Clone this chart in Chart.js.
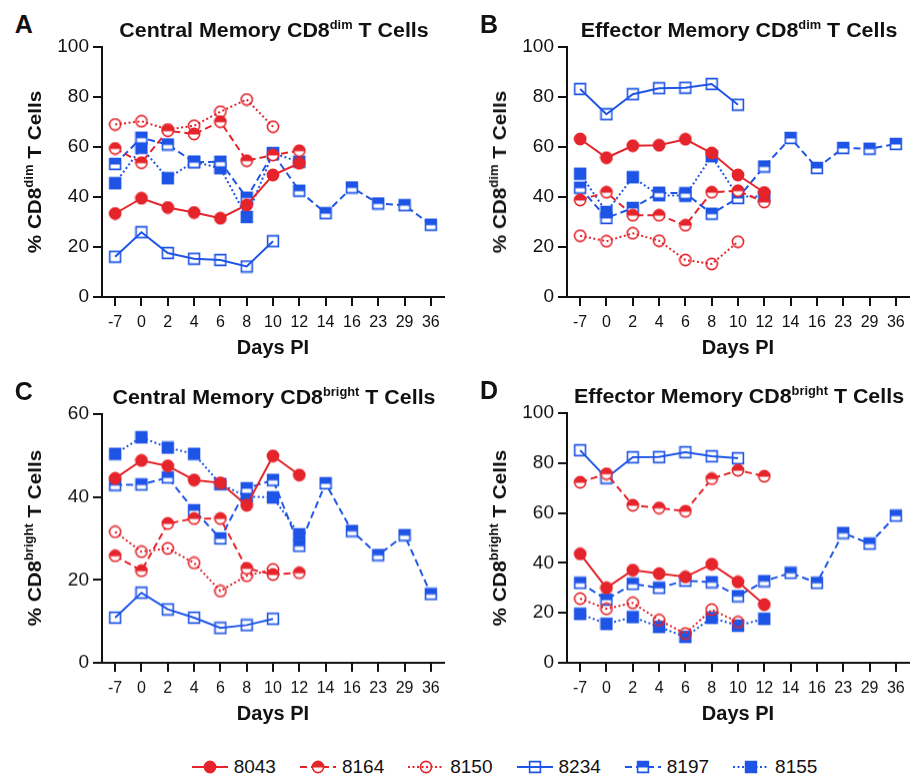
<!DOCTYPE html>
<html>
<head>
<meta charset="utf-8">
<script src="https://cdn.jsdelivr.net/npm/chart.js@4.4.0/dist/chart.umd.min.js"></script>
<style>
  html, body { margin: 0; padding: 0; background: #fff; }
  body {
    width: 917px; height: 778px; position: relative; overflow: hidden;
    font-family: "Liberation Sans", Arial, sans-serif; color: #111;
  }
  canvas.panel { position: absolute; }
  .letter, .ptitle, .ytitle { position: absolute; font-weight: bold; white-space: nowrap; }
  .letter { font-size: 25px; transform: translate(-50%, -50%); }
  .ptitle { font-size: 20px; transform: translate(-50%, -50%) scaleX(1.07); }
  .ytitle { font-size: 19px; transform: translate(-50%, -50%) rotate(-90deg) scaleX(1.09); }
  .sup { font-size: 12px; position: relative; top: -8px; }
  #legend {
    position: absolute; left: 46px; top: 755px; width: 917px; height: 24px;
    display: flex; justify-content: center; align-items: center;
    font-size: 19px;
  }
  .item { display: flex; align-items: center; margin: 0 12px; }
  .item canvas { margin-right: 6px; }
</style>
</head>
<body>
<div id="legend"></div>
<script>
// Dias pós-infecção e animais
const days = ['-7', '0', '2', '4', '6', '8', '10', '12', '14', '16', '23', '29', '36'];
const animals = ['8043', '8164', '8150', '8234', '8197', '8155'];

// A - Central Memory CD8dim
const a8043 = [33.4, 39.5, 35.8, 33.8, 31.5, 36.8, 48.8, 53.5];
const a8164 = [59.4, 53.7, 66.5, 65.2, 70.1, 54.5, 56.8, 58.5];
const a8150 = [69.0, 70.3, 67.0, 68.5, 74.1, 79.0, 68.1];
const a8234 = [16.1, 25.9, 17.6, 15.3, 14.8, 12.2, 22.3];
const a8197 = [53.2, 63.7, 61.0, 53.9, 54.1, 39.7, 57.4, 42.5, 33.5, 43.8, 37.4, 36.7, 28.9];
const a8155 = [45.5, 59.7, 47.5, 54.1, 51.5, 32.0, 57.5, 54.1];

// B - Effector Memory CD8dim
const b8043 = [63.2, 55.7, 60.5, 60.7, 63.1, 57.6, 48.8, 41.8];
const b8164 = [38.8, 41.9, 32.7, 32.7, 28.7, 41.9, 42.5, 38.0];
const b8150 = [24.5, 22.3, 25.5, 22.5, 14.8, 13.2, 22.1];
const b8234 = [83.2, 73.1, 81.1, 83.5, 83.7, 85.2, 76.9];
const b8197 = [43.7, 31.6, 35.6, 41.7, 41.5, 33.3, 39.6, 52.2, 63.6, 51.6, 59.6, 59.3, 61.2];
const b8155 = [49.3, 34.0, 47.9, 40.7, 40.5, 56.3, 40.2, 40.2];

// C - Central Memory CD8bright
const c8043 = [44.5, 48.8, 47.5, 44.1, 43.4, 38.0, 49.9, 45.3];
const c8164 = [25.8, 22.2, 33.6, 34.8, 34.8, 22.8, 21.3, 21.7];
const c8150 = [31.6, 26.8, 27.6, 24.1, 17.3, 21.0, 22.5];
const c8234 = [10.9, 16.9, 12.9, 10.9, 8.4, 9.1, 10.6];
const c8197 = [42.9, 43.0, 44.7, 36.8, 30.0, 42.1, 44.1, 28.2, 43.3, 31.8, 26.0, 30.8, 16.6];
const c8155 = [50.4, 54.4, 51.9, 50.4, 43.1, 40.1, 39.9, 31.0];

// D - Effector Memory CD8bright
const d8043 = [43.6, 30.0, 37.1, 35.7, 34.4, 39.5, 32.4, 23.3];
const d8164 = [72.3, 75.7, 63.1, 62.0, 60.7, 73.7, 77.1, 74.7];
const d8150 = [25.7, 21.6, 24.0, 17.1, 11.7, 21.3, 16.3];
const d8234 = [85.1, 74.0, 82.3, 82.4, 84.3, 82.7, 81.9];
const d8197 = [32.0, 25.3, 31.6, 30.0, 32.9, 32.3, 26.7, 32.7, 36.0, 32.0, 52.0, 47.7, 58.9];
const d8155 = [19.6, 15.6, 18.3, 14.4, 10.4, 18.0, 14.9, 17.6];

const RED = '#e5242b';
const BLUE = '#1f55e6';
const INK = '#111';
const FAMILY = "'Liberation Sans', Arial, sans-serif";

// estilo de cada animal: cor, forma do marcador, preenchimento, tracejado
const styles = [
    { color: RED, shape: 'circle', fill: 'full', dash: [] },
    { color: RED, shape: 'circle', fill: 'half', dash: [7, 4] },
    { color: RED, shape: 'circle', fill: 'none', dash: [2, 2.5] },
    { color: BLUE, shape: 'square', fill: 'none', dash: [] },
    { color: BLUE, shape: 'square', fill: 'half', dash: [7, 4] },
    { color: BLUE, shape: 'square', fill: 'full', dash: [2, 2.5] },
];

/**
 * Desenha um marcador num canvas pequeno (usado como pointStyle).
 */
function makeMarker(st) {
    const s = 14;
    const c = document.createElement('canvas');
    c.width = s; c.height = s;
    const ctx = c.getContext('2d');
    const path = () => {
        ctx.beginPath();
        if (st.shape === 'circle') ctx.arc(s / 2, s / 2, 5.6, 0, Math.PI * 2);
        else ctx.rect(s / 2 - 5.4, s / 2 - 5.4, 10.8, 10.8);
    };
    if (st.fill === 'full') {
        path(); ctx.fillStyle = st.color; ctx.fill();
    } else if (st.fill === 'half') {
        path(); ctx.fillStyle = '#fff'; ctx.fill();
        ctx.save();
        ctx.beginPath(); ctx.rect(0, 0, s, s / 2 + 0.5); ctx.clip();
        path(); ctx.fillStyle = st.color; ctx.fill();
        ctx.restore();
    }
    path();
    ctx.lineWidth = 1.6;
    ctx.strokeStyle = st.color;
    ctx.stroke();
    return c;
}

const markers = styles.map(makeMarker);

const panels = [
    { letter: 'A', title: 'Central Memory CD8', sup: 'dim', yMax: 100,
      series: [a8043, a8164, a8150, a8234, a8197, a8155],
      area: { left: 101.7, right: 446.5, top: 46.7, bottom: 297.3 } },
    { letter: 'B', title: 'Effector Memory CD8', sup: 'dim', yMax: 100,
      series: [b8043, b8164, b8150, b8234, b8197, b8155],
      area: { left: 567, right: 911.3, top: 47.3, bottom: 297.3 } },
    { letter: 'C', title: 'Central Memory CD8', sup: 'bright', yMax: 60,
      series: [c8043, c8164, c8150, c8234, c8197, c8155],
      area: { left: 101.7, right: 446.5, top: 414, bottom: 662.7 } },
    { letter: 'D', title: 'Effector Memory CD8', sup: 'bright', yMax: 100,
      series: [d8043, d8164, d8150, d8234, d8197, d8155],
      area: { left: 567, right: 911.3, top: 413.3, bottom: 663.3 } },
];

const Y_AXIS_W = 57;
const X_AXIS_H = 72;
const PAD_TOP = 17;
const PAD_RIGHT = 5;

function addText(cls, html, x, y) {
    const el = document.createElement('div');
    el.className = cls;
    el.innerHTML = html;
    el.style.left = x + 'px';
    el.style.top = y + 'px';
    document.body.appendChild(el);
}

function renderPanel(p) {
    const a = p.area;
    const canvas = document.createElement('canvas');
    canvas.className = 'panel';
    const left = a.left - Y_AXIS_W;
    const top = a.top - PAD_TOP;
    const width = a.right + PAD_RIGHT - left;
    const height = a.bottom + X_AXIS_H - top;
    canvas.style.left = left + 'px';
    canvas.style.top = top + 'px';
    canvas.width = width;
    canvas.height = height;
    canvas.style.width = width + 'px';
    canvas.style.height = height + 'px';
    document.body.appendChild(canvas);

    // títulos e letras
    const cx = (a.left + a.right) / 2;
    const cy = (a.top + a.bottom) / 2;
    addText('letter', p.letter, a.left - 78, a.top - 23);
    addText('ptitle', `${p.title}<span class="sup">${p.sup}</span> T Cells`, cx, a.top - 17);
    addText('ytitle', `% CD8<span class="sup">${p.sup}</span> T Cells`, a.left - 67, cy);

    const datasets = p.series.map((vals, i) => ({
        label: animals[i],
        data: vals,
        borderColor: styles[i].color,
        backgroundColor: styles[i].color,
        borderWidth: 2,
        borderDash: styles[i].dash,
        pointStyle: markers[i],
        pointRadius: 5,
        tension: 0,
        fill: false,
        spanGaps: false,
    }));

    new Chart(canvas.getContext('2d'), {
        type: 'line',
        data: { labels: days, datasets: datasets },
        options: {
            responsive: false,
            animation: false,
            events: [],
            layout: { padding: { left: 0, top: PAD_TOP, right: PAD_RIGHT, bottom: 0 } },
            plugins: { legend: { display: false }, tooltip: { enabled: false } },
            scales: {
                x: {
                    type: 'category',
                    offset: true,
                    grid: { offset: false, drawOnChartArea: false, drawTicks: true, tickLength: 9, color: INK, lineWidth: 2 },
                    border: { display: true, color: INK, width: 2 },
                    ticks: { color: INK, font: { size: 16, family: FAMILY }, padding: 7, maxRotation: 0, autoSkip: false },
                    title: { display: true, text: 'Days PI', color: INK, font: { size: 20, weight: 'bold', family: FAMILY }, padding: { top: 0, bottom: 8.5 } },
                    afterFit(scale) { scale.height = X_AXIS_H; }
                },
                y: {
                    min: 0,
                    max: p.yMax,
                    ticks: { stepSize: 20, color: INK, font: { size: 19, family: FAMILY }, padding: 4 },
                    grid: { drawOnChartArea: false, drawTicks: true, tickLength: 9, color: INK, lineWidth: 2 },
                    border: { display: true, color: INK, width: 2 },
                    afterFit(scale) { scale.width = Y_AXIS_W; }
                }
            }
        }
    });
}

function renderLegend() {
    const legend = document.getElementById('legend');
    styles.forEach((st, i) => {
        const item = document.createElement('div');
        item.className = 'item';
        const c = document.createElement('canvas');
        c.width = 36; c.height = 16;
        const ctx = c.getContext('2d');
        ctx.strokeStyle = st.color;
        ctx.lineWidth = 2;
        ctx.setLineDash(st.dash);
        ctx.beginPath(); ctx.moveTo(0, 8); ctx.lineTo(36, 8); ctx.stroke();
        ctx.drawImage(markers[i], 18 - 7, 8 - 7);
        const label = document.createElement('span');
        label.textContent = animals[i];
        item.appendChild(c);
        item.appendChild(label);
        legend.appendChild(item);
    });
}

panels.forEach(renderPanel);
renderLegend();
</script>
</body>
</html>
